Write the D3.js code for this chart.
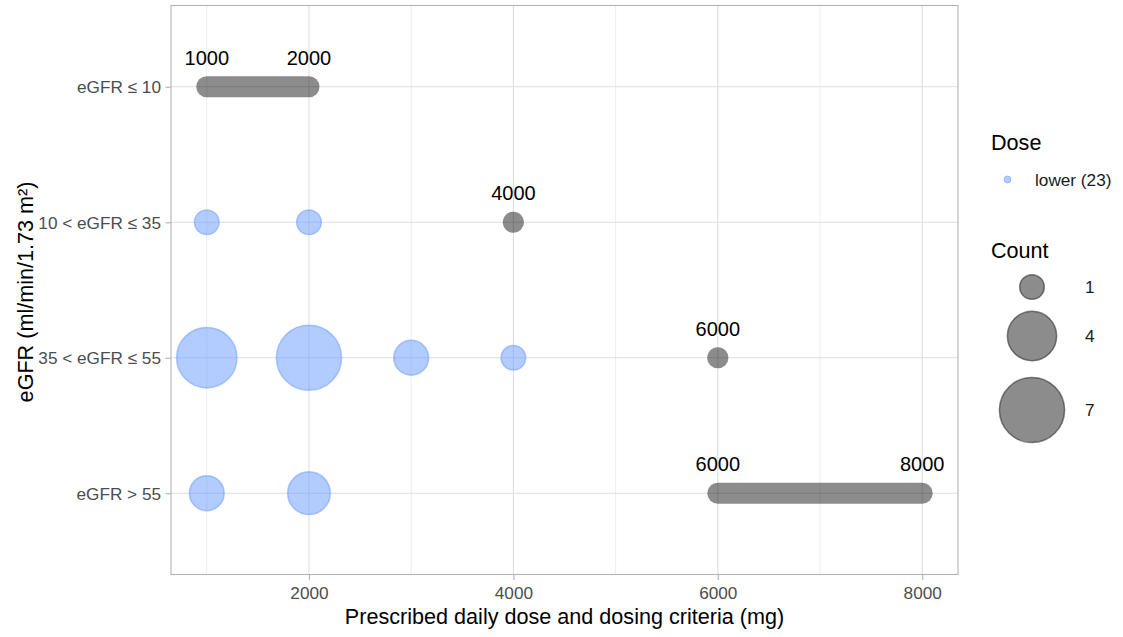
<!DOCTYPE html>
<html>
<head>
<meta charset="utf-8">
<script src="https://cdn.jsdelivr.net/npm/d3@7"></script>
<style>
  html, body { margin: 0; padding: 0; background: #fff; }
  svg { display: block; font-family: "Liberation Sans", Arial, sans-serif; }
</style>
</head>
<body>
<svg id="chart" width="1123" height="637"></svg>
<script>
// eGFR bands (top to bottom)
const categories = ["eGFR \u2264 10", "10 < eGFR \u2264 35", "35 < eGFR \u2264 55", "eGFR > 55"];

// Prescribed doses actually given (lower than criteria), with patient counts
const lowerBand  = ["10 < eGFR \u2264 35", "10 < eGFR \u2264 35", "35 < eGFR \u2264 55", "35 < eGFR \u2264 55", "35 < eGFR \u2264 55", "35 < eGFR \u2264 55", "eGFR > 55", "eGFR > 55"];
const lowerDose  = [1000, 2000, 1000, 2000, 3000, 4000, 1000, 2000];
const lowerCount = [1, 1, 6, 7, 2, 1, 2, 3];

// Dosing criteria per band: start and end of the recommended range (mg)
const criteriaBand  = ["eGFR \u2264 10", "10 < eGFR \u2264 35", "35 < eGFR \u2264 55", "eGFR > 55"];
const criteriaStart = [1000, 4000, 6000, 6000];
const criteriaEnd   = [2000, 4000, 6000, 8000];

const xTicks = [2000, 4000, 6000, 8000];
const xMinor = [1000, 3000, 5000, 7000];
const legendCounts = [1, 4, 7];

const svg = d3.select("#chart");
const panel = { left: 171, right: 958, top: 5.5, bottom: 574.5 };

const x = d3.scaleLinear().domain([650, 8350]).range([panel.left, panel.right]);
const y = d3.scalePoint().domain(categories).range([panel.top, panel.bottom]).padding(0.6);
const r = d3.scaleSqrt().domain([0, 7]).range([0, 32.6]);

const blue = "rgba(102,153,255,0.5)";
const grey = "rgba(0,0,0,0.45)";
const titleSize = "21.6px";
const smallSize = "17.2px";

// grid
const g = svg.append("g");
g.selectAll(".minor").data(xMinor).join("line")
  .attr("x1", d => x(d)).attr("x2", d => x(d))
  .attr("y1", panel.top).attr("y2", panel.bottom)
  .attr("stroke", "#dedede").attr("stroke-width", 0.55);
g.selectAll(".major").data(xTicks).join("line")
  .attr("x1", d => x(d)).attr("x2", d => x(d))
  .attr("y1", panel.top).attr("y2", panel.bottom)
  .attr("stroke", "#dedede").attr("stroke-width", 1.1);
g.selectAll(".hmajor").data(categories).join("line")
  .attr("x1", panel.left).attr("x2", panel.right)
  .attr("y1", d => y(d)).attr("y2", d => y(d))
  .attr("stroke", "#dedede").attr("stroke-width", 1.1);

// axes
const xAxis = svg.append("g")
  .attr("transform", `translate(0,${panel.bottom})`)
  .call(d3.axisBottom(x).tickValues(xTicks).tickSize(5.5).tickPadding(7).tickFormat(d3.format("d")));
const yAxis = svg.append("g")
  .attr("transform", `translate(${panel.left},0)`)
  .call(d3.axisLeft(y).tickSize(5.5).tickPadding(4.5));
[xAxis, yAxis].forEach(a => {
  a.select(".domain").remove();
  a.selectAll(".tick line").attr("stroke", "#b3b3b3").attr("stroke-width", 1.1);
  a.selectAll(".tick text").attr("fill", "#4d4d4d").style("font-size", smallSize);
});
yAxis.selectAll(".tick text").attr("dy", "0.35em");

// criteria ranges (grey bars / dots)
const crit = criteriaBand.map((b, i) => ({ band: b, start: criteriaStart[i], end: criteriaEnd[i] }));
svg.append("g").selectAll("line").data(crit.filter(d => d.end > d.start)).join("line")
  .attr("x1", d => x(d.start)).attr("x2", d => x(d.end))
  .attr("y1", d => y(d.band)).attr("y2", d => y(d.band))
  .attr("stroke", grey).attr("stroke-width", 21).attr("stroke-linecap", "round");
svg.append("g").selectAll("circle").data(crit.filter(d => d.end === d.start)).join("circle")
  .attr("cx", d => x(d.start)).attr("cy", d => y(d.band)).attr("r", 10.6)
  .attr("fill", grey);

// criteria labels
const critLabels = [];
crit.forEach(d => {
  critLabels.push({ band: d.band, v: d.start });
  if (d.end !== d.start) critLabels.push({ band: d.band, v: d.end });
});
svg.append("g").selectAll("text").data(critLabels).join("text")
  .attr("x", d => x(d.v)).attr("y", d => y(d.band) - 22)
  .attr("text-anchor", "middle").style("font-size", "20px").attr("fill", "#000")
  .text(d => d.v);

// lower-dose bubbles
const lower = lowerBand.map((b, i) => ({ band: b, dose: lowerDose[i], count: lowerCount[i] }));
svg.append("g").selectAll("circle").data(lower).join("circle")
  .attr("cx", d => x(d.dose)).attr("cy", d => y(d.band)).attr("r", d => r(d.count))
  .attr("fill", blue).attr("stroke", blue).attr("stroke-width", 1.5);

// panel border
svg.append("rect")
  .attr("x", panel.left).attr("y", panel.top)
  .attr("width", panel.right - panel.left).attr("height", panel.bottom - panel.top)
  .attr("fill", "none").attr("stroke", "#b3b3b3").attr("stroke-width", 1.1);

// axis titles
svg.append("text")
  .attr("x", (panel.left + panel.right) / 2).attr("y", 623.5)
  .attr("text-anchor", "middle").style("font-size", titleSize).attr("fill", "#000")
  .text("Prescribed daily dose and dosing criteria (mg)");
svg.append("text")
  .attr("transform", `translate(33,${(panel.top + panel.bottom) / 2 + 2}) rotate(-90)`)
  .attr("text-anchor", "middle").style("font-size", titleSize).attr("fill", "#000")
  .text("eGFR (ml/min/1.73 m\u00b2)");

// legend: Dose
const lg = svg.append("g");
lg.append("text").attr("x", 991).attr("y", 150).style("font-size", titleSize).text("Dose");
lg.append("circle").attr("cx", 1007.5).attr("cy", 179.5).attr("r", 3.5)
  .attr("fill", blue).attr("stroke", blue).attr("stroke-width", 1);
lg.append("text").attr("x", 1035).attr("y", 185.5).style("font-size", smallSize).attr("fill", "#1a1a1a")
  .text(`lower (${d3.sum(lowerCount)})`);

// legend: Count
lg.append("text").attr("x", 991).attr("y", 257.5).style("font-size", titleSize).text("Count");
const legendY = [287, 336, 410];
lg.selectAll(".lc").data(legendCounts).join("circle")
  .attr("cx", 1032).attr("cy", (d, i) => legendY[i]).attr("r", d => r(d))
  .attr("fill", grey).attr("stroke", grey).attr("stroke-width", 1.5);
lg.selectAll(".lt").data(legendCounts).join("text")
  .attr("x", 1085).attr("y", (d, i) => legendY[i] + 6)
  .style("font-size", smallSize).attr("fill", "#1a1a1a")
  .text(d => d);
</script>
</body>
</html>
